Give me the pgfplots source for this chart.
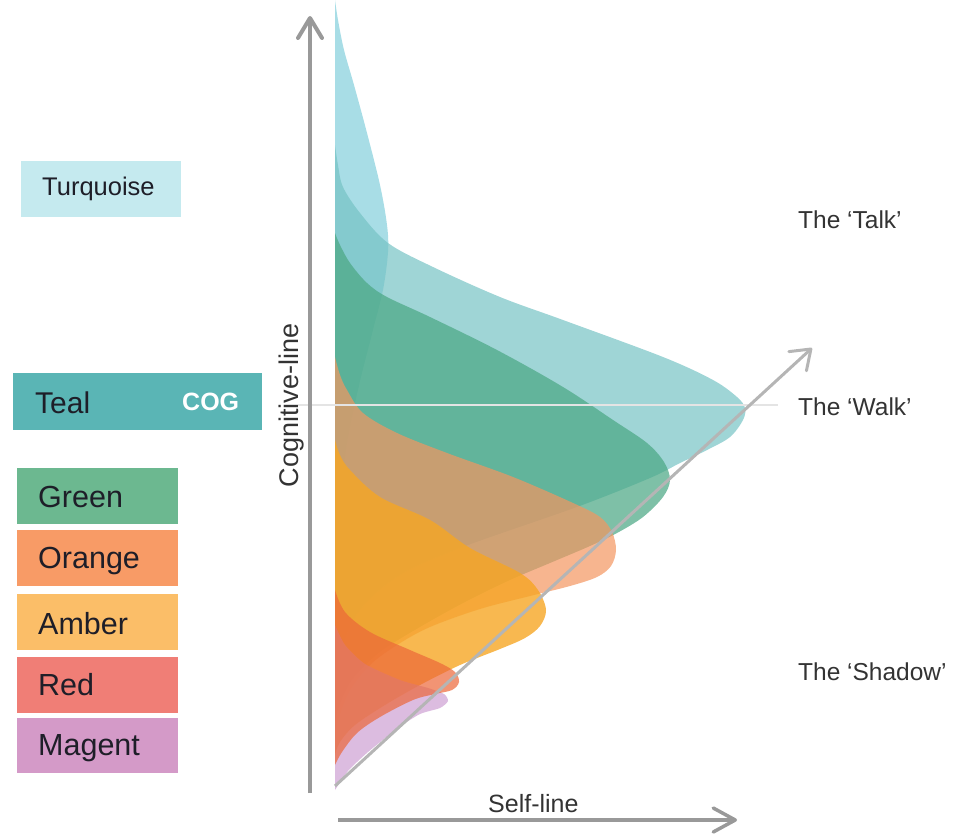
\documentclass[border=0pt]{standalone}
\usepackage{pgfplots}
\pgfplotsset{compat=1.18}
\usetikzlibrary{arrows.meta}
\usepackage{fontspec}
\setmainfont{Liberation Sans}
\definecolor{cA}{HTML}{83CFDB}
\definecolor{cB}{HTML}{76C3C4}
\definecolor{cC}{HTML}{4CA885}
\definecolor{cD}{HTML}{F49660}
\definecolor{cE}{HTML}{F6A624}
\definecolor{cF}{HTML}{EC6739}
\definecolor{cG}{HTML}{CD9FD3}
\definecolor{bTurq}{HTML}{C5EAEF}
\definecolor{bTeal}{HTML}{5AB5B5}
\definecolor{bGreen}{HTML}{6CB890}
\definecolor{bOrange}{HTML}{F89B66}
\definecolor{bAmber}{HTML}{FBBE68}
\definecolor{bRed}{HTML}{F07E76}
\definecolor{bMag}{HTML}{D49AC8}
\definecolor{txt}{HTML}{1E1E28}
\definecolor{lbl}{HTML}{333333}
\definecolor{arr}{HTML}{999999}
\definecolor{diag}{HTML}{B5B5B5}
\definecolor{walk}{HTML}{E4E4E4}
\begin{document}
\begin{tikzpicture}
\begin{axis}[scale only axis, width=960pt, height=835pt,
  xmin=0, xmax=960, ymin=0, ymax=835, y dir=reverse,
  hide axis, clip=false]
\path (axis cs:0,0) rectangle (axis cs:960,835);
% Turquoise spike
\addplot[forget plot, draw=none, fill=cA, fill opacity=0.7, smooth, tension=0.55] coordinates {
(335,0) (338,20) (344,50) (354,85) (367,133) (380,185) (387,225) (388,252) (383,290) (373,330) (358,390) (346,450) (339,520) (336,600) (335,690)} -- cycle;
% Teal lobe
\addplot[forget plot, draw=none, fill=cB, fill opacity=0.7, smooth, tension=0.55] coordinates {
(335,145) (338,165) (343,187) (360,213) (388,243) (433,267) (500,297) (563,320) (663,357) (713,380) (737,397) (745,408) (743,420) (730,437) (707,450) (680,463) (650,478) (577,507) (463,547) (400,575) (360,610) (342,650) (335,700)} -- cycle;
% Green
\addplot[forget plot, draw=none, fill=cC, fill opacity=0.72, smooth, tension=0.55] coordinates {
(335,233) (340,245) (350,263) (367,283) (387,297) (430,317) (497,350) (563,387) (613,420) (647,443) (664,462) (670,480) (663,497) (643,517) (617,533) (590,546) (550,563) (510,580) (465,602) (420,627) (380,652) (352,680) (338,710) (335,730)} -- cycle;
% Orange
\addplot[forget plot, draw=none, fill=cD, fill opacity=0.7, smooth, tension=0.55] coordinates {
(335,357) (340,375) (347,390) (363,413) (397,433) (447,453) (513,477) (573,503) (600,517) (612,532) (616,550) (611,566) (597,577) (570,586) (530,596) (480,609) (430,627) (397,645) (370,665) (350,690) (338,720) (335,740)} -- cycle;
% Amber
\addplot[forget plot, draw=none, fill=cE, fill opacity=0.8, smooth, tension=0.55] coordinates {
(335,440) (340,455) (350,470) (380,497) (430,520) (470,548) (520,573) (538,590) (546,610) (540,626) (525,638) (500,649) (460,665) (420,685) (385,705) (355,725) (340,742) (335,755)} -- cycle;
% Magenta
\addplot[forget plot, draw=none, fill=cG, fill opacity=0.7, smooth, tension=0.4] coordinates {
(335,625) (345,645) (365,664) (400,680) (428,688) (444,694) (448,701) (440,708) (420,714) (398,728) (368,752) (348,771) (335,790)} -- cycle;
% Red
\addplot[forget plot, draw=none, fill=cF, fill opacity=0.7, smooth, tension=0.55] coordinates {
(335,590) (345,612) (370,632) (410,650) (440,663) (455,672) (459,682) (452,690) (435,694) (413,700) (380,717) (357,733) (342,752) (335,765)} -- cycle;
% Walk line
\addplot[forget plot, color=walk, line width=1.5pt] coordinates {(298,405) (778,405)};
% Diagonal arrow
\addplot[forget plot, color=diag, line width=3pt, -{Straight Barb[length=18pt,width=26pt,round]}] coordinates {(335,786) (812,348)};
% Cognitive-line arrow
\addplot[forget plot, color=arr, line width=4pt, -{Straight Barb[length=20pt,width=24pt,round]}] coordinates {(310,793) (310,16)};
% Self-line arrow
\addplot[forget plot, color=arr, line width=3.5pt, -{Straight Barb[length=22pt,width=24pt,round]}] coordinates {(338,820) (737,820)};
% Legend boxes
\fill[bTurq] (axis cs:21,161) rectangle (axis cs:181,217);
\fill[bTeal] (axis cs:13,373) rectangle (axis cs:262,430);
\fill[bGreen] (axis cs:17,468) rectangle (axis cs:178,524);
\fill[bOrange] (axis cs:17,530) rectangle (axis cs:178,586);
\fill[bAmber] (axis cs:17,594) rectangle (axis cs:178,650);
\fill[bRed] (axis cs:17,657) rectangle (axis cs:178,713);
\fill[bMag] (axis cs:17,718) rectangle (axis cs:178,773);
\node[anchor=base west, inner sep=0pt, text=txt, font=\fontsize{25.5}{30}\selectfont] at (axis cs:42,195) {Turquoise};
\node[anchor=base west, inner sep=0pt, text=txt, font=\fontsize{30}{36}\selectfont] at (axis cs:35,413) {Teal};
\node[anchor=base west, inner sep=0pt, text=white, font=\fontsize{25}{30}\selectfont\bfseries] at (axis cs:182,410) {COG};
\node[anchor=base west, inner sep=0pt, text=txt, font=\fontsize{30.5}{36}\selectfont] at (axis cs:38,507) {Green};
\node[anchor=base west, inner sep=0pt, text=txt, font=\fontsize{30.5}{36}\selectfont] at (axis cs:38,568) {Orange};
\node[anchor=base west, inner sep=0pt, text=txt, font=\fontsize{30.5}{36}\selectfont] at (axis cs:38,634) {Amber};
\node[anchor=base west, inner sep=0pt, text=txt, font=\fontsize{30.5}{36}\selectfont] at (axis cs:38,695) {Red};
\node[anchor=base west, inner sep=0pt, text=txt, font=\fontsize{30.5}{36}\selectfont] at (axis cs:38,755) {Magent};
% Right labels
\node[anchor=base west, inner sep=0pt, text=lbl, font=\fontsize{24.5}{29}\selectfont] at (axis cs:798,228) {The `Talk'};
\node[anchor=base west, inner sep=0pt, text=lbl, font=\fontsize{24.5}{29}\selectfont] at (axis cs:798,415) {The `Walk'};
\node[anchor=base west, inner sep=0pt, text=lbl, font=\fontsize{24.5}{29}\selectfont] at (axis cs:798,680) {The `Shadow'};
% Axis labels
\node[anchor=base west, inner sep=0pt, text=lbl, font=\fontsize{25}{30}\selectfont] at (axis cs:488,812) {Self-line};
\node[anchor=base, rotate=90, inner sep=0pt, text=lbl, font=\fontsize{27}{32}\selectfont] at (axis cs:298,405.5) {Cognitive-line};
\end{axis}
\end{tikzpicture}
\end{document}
